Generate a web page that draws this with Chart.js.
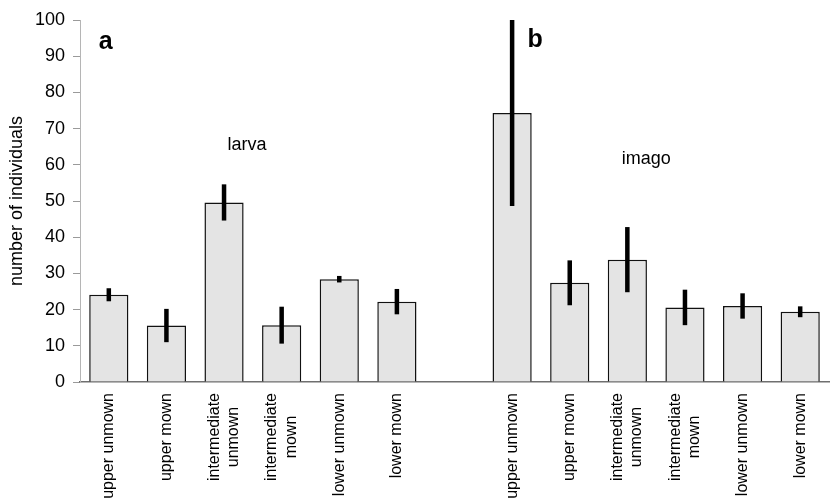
<!DOCTYPE html>
<html>
<head>
<meta charset="utf-8">
<script src="https://cdn.jsdelivr.net/npm/chart.js@4/dist/chart.umd.min.js"></script>
<style>
  html, body { margin: 0; padding: 0; background: #ffffff; }
  #wrap { width: 830px; height: 500px; position: relative; }
</style>
</head>
<body>
<div id="wrap"><canvas id="c" width="830" height="500"></canvas></div>
<script>
// Site / management categories (same order in both panels)
const categories = ['upper unmown', 'upper mown', ['intermediate', 'unmown'], ['intermediate', 'mown'], 'lower unmown', 'lower mown'];

// Panel a: larvae, mean number of individuals and error half-width
const larvaMeans = [24.1, 15.6, 49.6, 15.7, 28.4, 22.2];
const larvaErrors = [1.8, 4.6, 5.0, 5.1, 0.9, 3.5];

// Panel b: imagines, mean number of individuals and error half-width
const imagoMeans = [74.3, 27.4, 33.8, 20.6, 21.0, 19.4];
const imagoErrors = [25.7, 6.2, 9.0, 4.9, 3.5, 1.5];

// Y axis
const yTicks = [0, 10, 20, 30, 40, 50, 60, 70, 80, 90, 100];
const yTitle = 'number of individuals';

// Panel captions
const panelLetters = ['a', 'b'];
const stageNames = ['larva', 'imago'];

// One empty slot separates the two panels on the shared category axis
const labels = [...categories, '', ...categories];
const means = [...larvaMeans, null, ...imagoMeans];
const errors = [...larvaErrors, null, ...imagoErrors];

const FONT = '"Liberation Sans", Arial, Helvetica, sans-serif';

const errorBars = {
  id: 'errorBars',
  afterDatasetsDraw(chart) {
    const { ctx, scales: { x, y } } = chart;
    ctx.save();
    ctx.strokeStyle = '#000';
    ctx.lineWidth = 4.5;
    ctx.lineCap = 'butt';
    means.forEach((m, i) => {
      if (m === null) return;
      const px = x.getPixelForValue(i);
      ctx.beginPath();
      ctx.moveTo(px, y.getPixelForValue(m + errors[i]));
      ctx.lineTo(px, y.getPixelForValue(m - errors[i]));
      ctx.stroke();
    });
    ctx.restore();
  }
};

// Vertical category labels; wrapped labels are centred line by line on their tick
const verticalLabels = {
  id: 'verticalLabels',
  afterDraw(chart) {
    const { ctx, scales: { x } } = chart;
    const size = 16, lineHeight = 19.2;
    const top = x.top + 11;
    ctx.save();
    ctx.fillStyle = '#000';
    ctx.font = size + 'px ' + FONT;
    ctx.textBaseline = 'middle';
    ctx.textAlign = 'center';
    labels.forEach((lab, i) => {
      const lines = Array.isArray(lab) ? lab : [lab];
      if (!lines[0]) return;
      const widths = lines.map(l => ctx.measureText(l).width);
      const blockW = Math.max(...widths);
      const px = x.getPixelForValue(i);
      lines.forEach((line, k) => {
        const cx = px + (k - (lines.length - 1) / 2) * lineHeight;
        ctx.save();
        ctx.translate(cx, top + blockW / 2);
        ctx.rotate(-Math.PI / 2);
        ctx.fillText(line, 0, 0);
        ctx.restore();
      });
    });
    ctx.restore();
  }
};

const captions = {
  id: 'captions',
  afterDraw(chart) {
    const { ctx, scales: { x, y } } = chart;
    ctx.save();
    ctx.fillStyle = '#000';
    ctx.textAlign = 'center';
    ctx.textBaseline = 'alphabetic';
    // panel letters
    ctx.font = 'bold 25px ' + FONT;
    ctx.fillText(panelLetters[0], x.getPixelForValue(0) - 3, y.getPixelForValue(92));
    ctx.fillText(panelLetters[1], x.getPixelForValue(7) + 23, y.getPixelForValue(92.5));
    // life stage labels
    ctx.font = '18px ' + FONT;
    ctx.fillText(stageNames[0], x.getPixelForValue(2) + 23, y.getPixelForValue(64));
    ctx.fillText(stageNames[1], x.getPixelForValue(9) + 19, y.getPixelForValue(60.3));
    ctx.restore();
  }
};

new Chart(document.getElementById('c'), {
  type: 'bar',
  data: {
    labels: labels,
    datasets: [{
      data: means,
      backgroundColor: '#e4e4e4',
      borderColor: '#111',
      borderWidth: 1.5,
      borderSkipped: 'bottom',
      categoryPercentage: 1.0,
      barPercentage: 0.68
    }]
  },
  options: {
    responsive: false,
    animation: false,
    events: [],
    layout: { padding: { top: 20, right: 1, left: 0, bottom: 0 } },
    plugins: { legend: { display: false }, tooltip: { enabled: false } },
    scales: {
      x: {
        grid: { display: false },
        border: { display: true, color: '#6f6f6f', width: 1.5 },
        ticks: { display: false, autoSkip: false },
        afterFit(scale) { scale.height = 118; }
      },
      y: {
        min: 0,
        max: 100,
        afterBuildTicks(scale) { scale.ticks = yTicks.map(v => ({ value: v })); },
        grid: { drawOnChartArea: false, drawTicks: true, tickLength: 7, color: '#9a9a9a' },
        border: { display: true, color: '#b5b5b5', width: 1 },
        ticks: {
          padding: 8,
          color: '#000',
          font: { family: FONT, size: 18 }
        },
        title: {
          display: true,
          text: yTitle,
          color: '#000',
          padding: { top: 6, bottom: 0 },
          font: { family: FONT, size: 18 }
        },
        afterFit(scale) { scale.width = 80; }
      }
    }
  },
  plugins: [errorBars, verticalLabels, captions]
});
</script>
</body>
</html>
